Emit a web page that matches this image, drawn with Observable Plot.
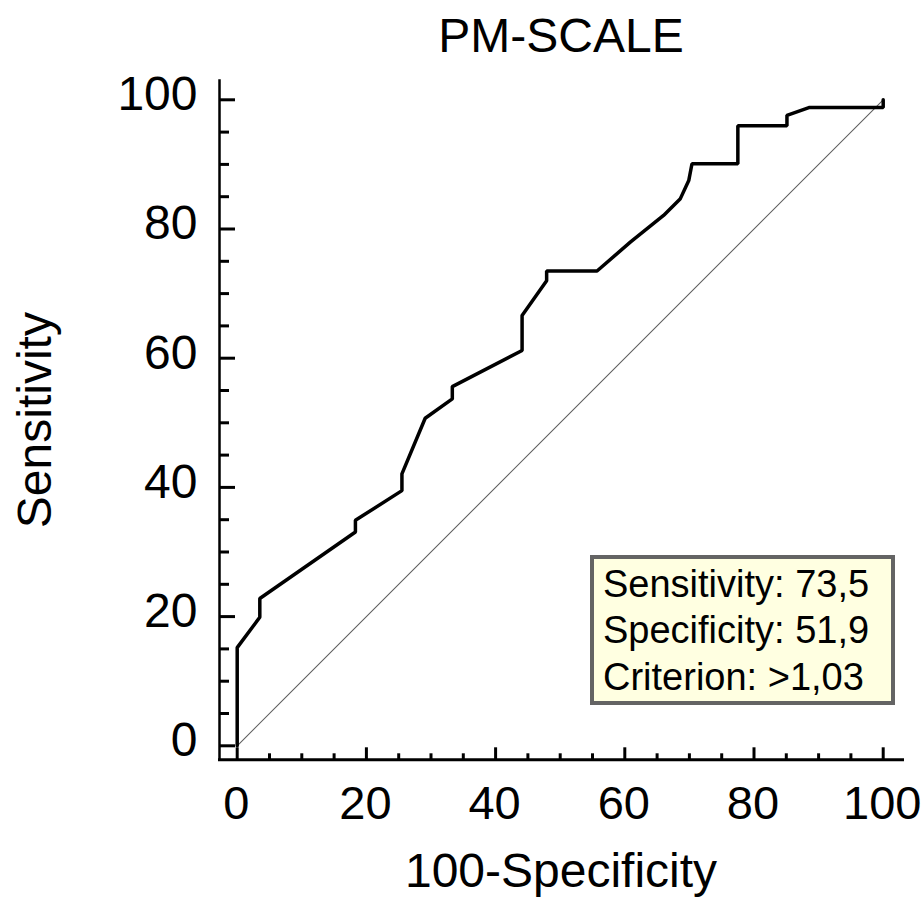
<!DOCTYPE html>
<html>
<head>
<meta charset="utf-8">
<script src="https://cdn.jsdelivr.net/npm/d3@7"></script>
<script src="https://cdn.jsdelivr.net/npm/@observablehq/plot@0.6"></script>
<style>
html, body { margin: 0; padding: 0; background: #ffffff; }
#wrap { position: relative; width: 921px; height: 897px; overflow: hidden; background: #ffffff; }
#wrap svg { position: absolute; left: 0; top: 0; }
#legend {
  position: absolute; left: 590px; top: 555px; width: 305px; height: 150px;
  box-sizing: border-box; border: 4px solid #646464; background: #ffffe1;
  font-family: "Liberation Sans", Arial, sans-serif; font-size: 38px; line-height: 46.5px;
  padding: 1.6px 0 0 9px; color: #000; white-space: nowrap;
}
</style>
</head>
<body>
<div id="wrap"><div id="legend"></div></div>
<script>
// ---- data ----
const title = "PM-SCALE";
const xLabel = "100-Specificity";
const yLabel = "Sensitivity";

// ROC curve: 100-Specificity (x) and Sensitivity (y)
const rocX = [0, 0, 3.5, 3.5, 18.3, 18.3, 25.5, 25.5, 29.1, 33.3, 33.3, 44.1, 44.1, 47.9, 47.9, 55.7, 60.9, 66.0, 68.6, 69.9, 70.4, 77.5, 77.5, 85.1, 85.1, 88.5, 100, 100];
const rocY = [0, 15.2, 19.9, 22.8, 33.1, 34.9, 39.5, 42.1, 50.7, 53.7, 55.6, 61.2, 66.6, 72.0, 73.5, 73.5, 78.0, 82.1, 84.7, 87.5, 90.1, 90.1, 96.0, 96.0, 97.6, 98.8, 98.8, 100];

// reference diagonal
const diagX = [0, 100];
const diagY = [0, 100];

// ticks
const majorTicks = [0, 20, 40, 60, 80, 100];
const minorTicks = [5, 10, 15, 25, 30, 35, 45, 50, 55, 65, 70, 75, 85, 90, 95];

// legend box
const legendLabels = ["Sensitivity", "Specificity", "Criterion"];
const legendValues = ["73,5", "51,9", ">1,03"];

// ---- build ----
const roc = rocX.map((x, i) => ({x, y: rocY[i]}));
const diag = diagX.map((x, i) => ({x, y: diagY[i]}));
const font = "'Liberation Sans', Arial, sans-serif";

const chart = Plot.plot({
  width: 921,
  height: 897,
  marginLeft: 219,
  marginRight: 19,
  marginTop: 80,
  marginBottom: 137.7,
  x: {domain: [0, 100], insetLeft: 17.7, insetRight: 19.3},
  y: {domain: [0, 100], insetTop: 19.3, insetBottom: 14},
  style: {fontFamily: font, background: "#ffffff", color: "#000000"},
  marks: [
    Plot.frame({anchor: "left", stroke: "#000", strokeWidth: 2.5}),
    Plot.frame({anchor: "bottom", stroke: "#000", strokeWidth: 3}),
    Plot.axisY(majorTicks, {anchor: "left", tickSize: -16, strokeWidth: 3, fill: "none", label: null}),
    Plot.axisY(minorTicks, {anchor: "left", tickSize: -10, strokeWidth: 3, fill: "none", label: null}),
    Plot.axisY(majorTicks, {anchor: "left", tickSize: 0, tickPadding: 22, fontSize: 48, dy: -5, label: null}),
    Plot.axisX(majorTicks, {anchor: "bottom", tickSize: -12, strokeWidth: 3, fill: "none", label: null}),
    Plot.axisX(minorTicks, {anchor: "bottom", tickSize: -6, strokeWidth: 3, fill: "none", label: null}),
    Plot.axisX(majorTicks, {anchor: "bottom", tickSize: 0, tickPadding: 26, fontSize: 47, dx: -1, label: null}),
    Plot.line(diag, {x: "x", y: "y", stroke: "#606060", strokeWidth: 1.1}),
    Plot.line(roc, {x: "x", y: "y", stroke: "#000000", strokeWidth: 3.5, strokeLinejoin: "miter"}),
    Plot.text([title], {frameAnchor: "top", dy: -29, lineAnchor: "bottom", textAnchor: "middle", fontSize: 48, fill: "#000"}),
    Plot.text([xLabel], {frameAnchor: "bottom", dy: 127, lineAnchor: "bottom", textAnchor: "middle", fontSize: 48, fill: "#000"}),
    Plot.text([yLabel], {frameAnchor: "left", dx: -169, rotate: -90, lineAnchor: "bottom", textAnchor: "middle", fontSize: 48, fill: "#000"})
  ]
});

const wrap = document.getElementById("wrap");
wrap.insertBefore(chart, wrap.firstChild);

const legend = document.getElementById("legend");
legendLabels.forEach((l, i) => {
  const div = document.createElement("div");
  div.textContent = `${l}: ${legendValues[i]}`;
  legend.appendChild(div);
});
</script>
</body>
</html>
